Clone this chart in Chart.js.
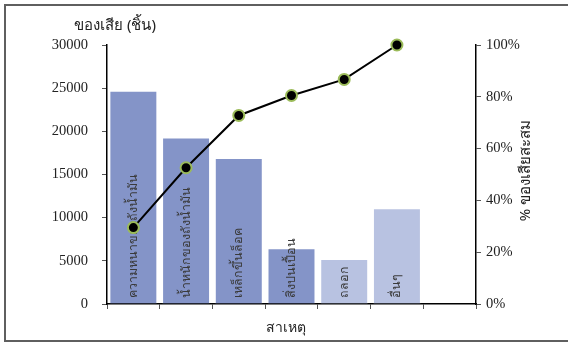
<!DOCTYPE html>
<html>
<head>
<meta charset="utf-8">
<script src="https://cdn.jsdelivr.net/npm/chart.js@4"></script>
<style>
  html, body { margin: 0; padding: 0; background: #fff; }
  #wrap { width: 568px; height: 343px; }
</style>
</head>
<body>
<div id="wrap"><canvas id="chart" width="568" height="343"></canvas></div>
<script>
// Pareto data
const causes = ['ความหนาของถังน้ำมัน', 'น้ำหนักของถังน้ำมัน', 'เหล็กขึ้นล็อค', 'สิ่งปนเปื้อน', 'ถลอก', 'อื่นๆ', ''];
const defects = [24700, 19300, 16900, 6450, 5200, 11100];
const cumulativePct = [29.5, 52.6, 72.8, 80.5, 86.7, 100];
const barColors = ['#8494c8', '#8494c8', '#8494c8', '#8494c8', '#b8c2e1', '#b8c2e1'];

const SERIF = '"Liberation Serif", "Times New Roman", serif';
const THAI = '"Noto Sans", "DejaVu Sans", sans-serif';
const BAR_INDEX = 1;

// Outer frame around the whole chart
const framePlugin = {
    id: 'frame',
    beforeDraw(chart) {
        const ctx = chart.ctx;
        ctx.save();
        ctx.fillStyle = '#fff';
        ctx.fillRect(0, 0, chart.width, chart.height);
        ctx.strokeStyle = '#5f5f5f';
        ctx.lineWidth = 2;
        ctx.strokeRect(5, 5, chart.width + 10, chart.height - 7);
        ctx.restore();
    }
};

// Category names drawn vertically inside the bars, plus the axis titles
const labelPlugin = {
    id: 'barLabels',
    afterDatasetDraw(chart, args) {
        if (args.index !== BAR_INDEX) return;
        const ctx = chart.ctx;
        const meta = chart.getDatasetMeta(BAR_INDEX);
        ctx.save();
        ctx.font = '12.5px ' + THAI;
        ctx.fillStyle = '#3a3a3a';
        ctx.textAlign = 'left';
        ctx.textBaseline = 'middle';
        meta.data.forEach((bar, i) => {
            ctx.save();
            ctx.translate(bar.x, bar.base - 6);
            ctx.rotate(-Math.PI / 2);
            ctx.fillText(causes[i], 0, 0);
            ctx.restore();
        });
        ctx.restore();
    },
    afterDraw(chart) {
        const ctx = chart.ctx;
        const area = chart.chartArea;
        ctx.save();
        ctx.fillStyle = '#222';
        ctx.textAlign = 'center';
        ctx.textBaseline = 'middle';
        ctx.font = '15px ' + THAI;
        ctx.fillText('ของเสีย (ชิ้น)', area.left + 8, 26);
        ctx.font = '14px ' + THAI;
        ctx.fillText('สาเหตุ', (area.left + area.right) / 2 - 6, area.bottom + 24);
        ctx.font = '15px ' + THAI;
        ctx.translate(area.right + 50, (area.top + area.bottom) / 2 - 4);
        ctx.rotate(-Math.PI / 2);
        ctx.fillText('% ของเสียสะสม', 0, 0);
        ctx.restore();
    }
};

new Chart(document.getElementById('chart'), {
    data: {
        labels: causes,
        datasets: [
            {
                type: 'line',
                data: cumulativePct,
                yAxisID: 'y2',
                order: 0,
                clip: false,
                borderColor: '#000',
                borderWidth: 2,
                pointRadius: 5.5,
                pointBackgroundColor: '#000',
                pointBorderColor: '#9bbb59',
                pointBorderWidth: 2,
                tension: 0
            },
            {
                type: 'bar',
                data: defects,
                yAxisID: 'y',
                order: 1,
                backgroundColor: barColors,
                borderColor: 'rgba(255,255,255,0.35)',
                borderWidth: 1,
                categoryPercentage: 1,
                barPercentage: 0.91
            }
        ]
    },
    options: {
        responsive: false,
        animation: false,
        devicePixelRatio: 1,
        layout: { padding: { top: 45, left: 0, right: 0, bottom: 0 } },
        plugins: {
            legend: { display: false },
            tooltip: { enabled: false }
        },
        scales: {
            x: {
                type: 'category',
                offset: true,
                grid: { offset: true, drawOnChartArea: false, drawTicks: true, tickLength: 5, color: '#555' },
                border: { color: '#000', width: 1.5 },
                ticks: { display: false },
                afterFit(scale) { scale.height = 39; }
            },
            y: {
                position: 'left',
                min: 0,
                max: 30000,
                ticks: {
                    stepSize: 5000,
                    padding: 14,
                    color: '#222',
                    font: { family: SERIF, size: 14.5 },
                    callback: v => String(v)
                },
                grid: { drawOnChartArea: false, drawTicks: true, tickLength: 5, color: '#555' },
                border: { color: '#000', width: 1.5 },
                afterFit(scale) { scale.width = 107; }
            },
            y2: {
                position: 'right',
                min: 0,
                max: 100,
                ticks: {
                    stepSize: 20,
                    padding: 5,
                    color: '#222',
                    font: { family: SERIF, size: 14.5 },
                    callback: v => v + '%'
                },
                grid: { drawOnChartArea: false, drawTicks: true, tickLength: 5, color: '#555' },
                border: { color: '#000', width: 1.5 },
                afterFit(scale) { scale.width = 92; }
            }
        }
    },
    plugins: [framePlugin, labelPlugin]
});
</script>
</body>
</html>
